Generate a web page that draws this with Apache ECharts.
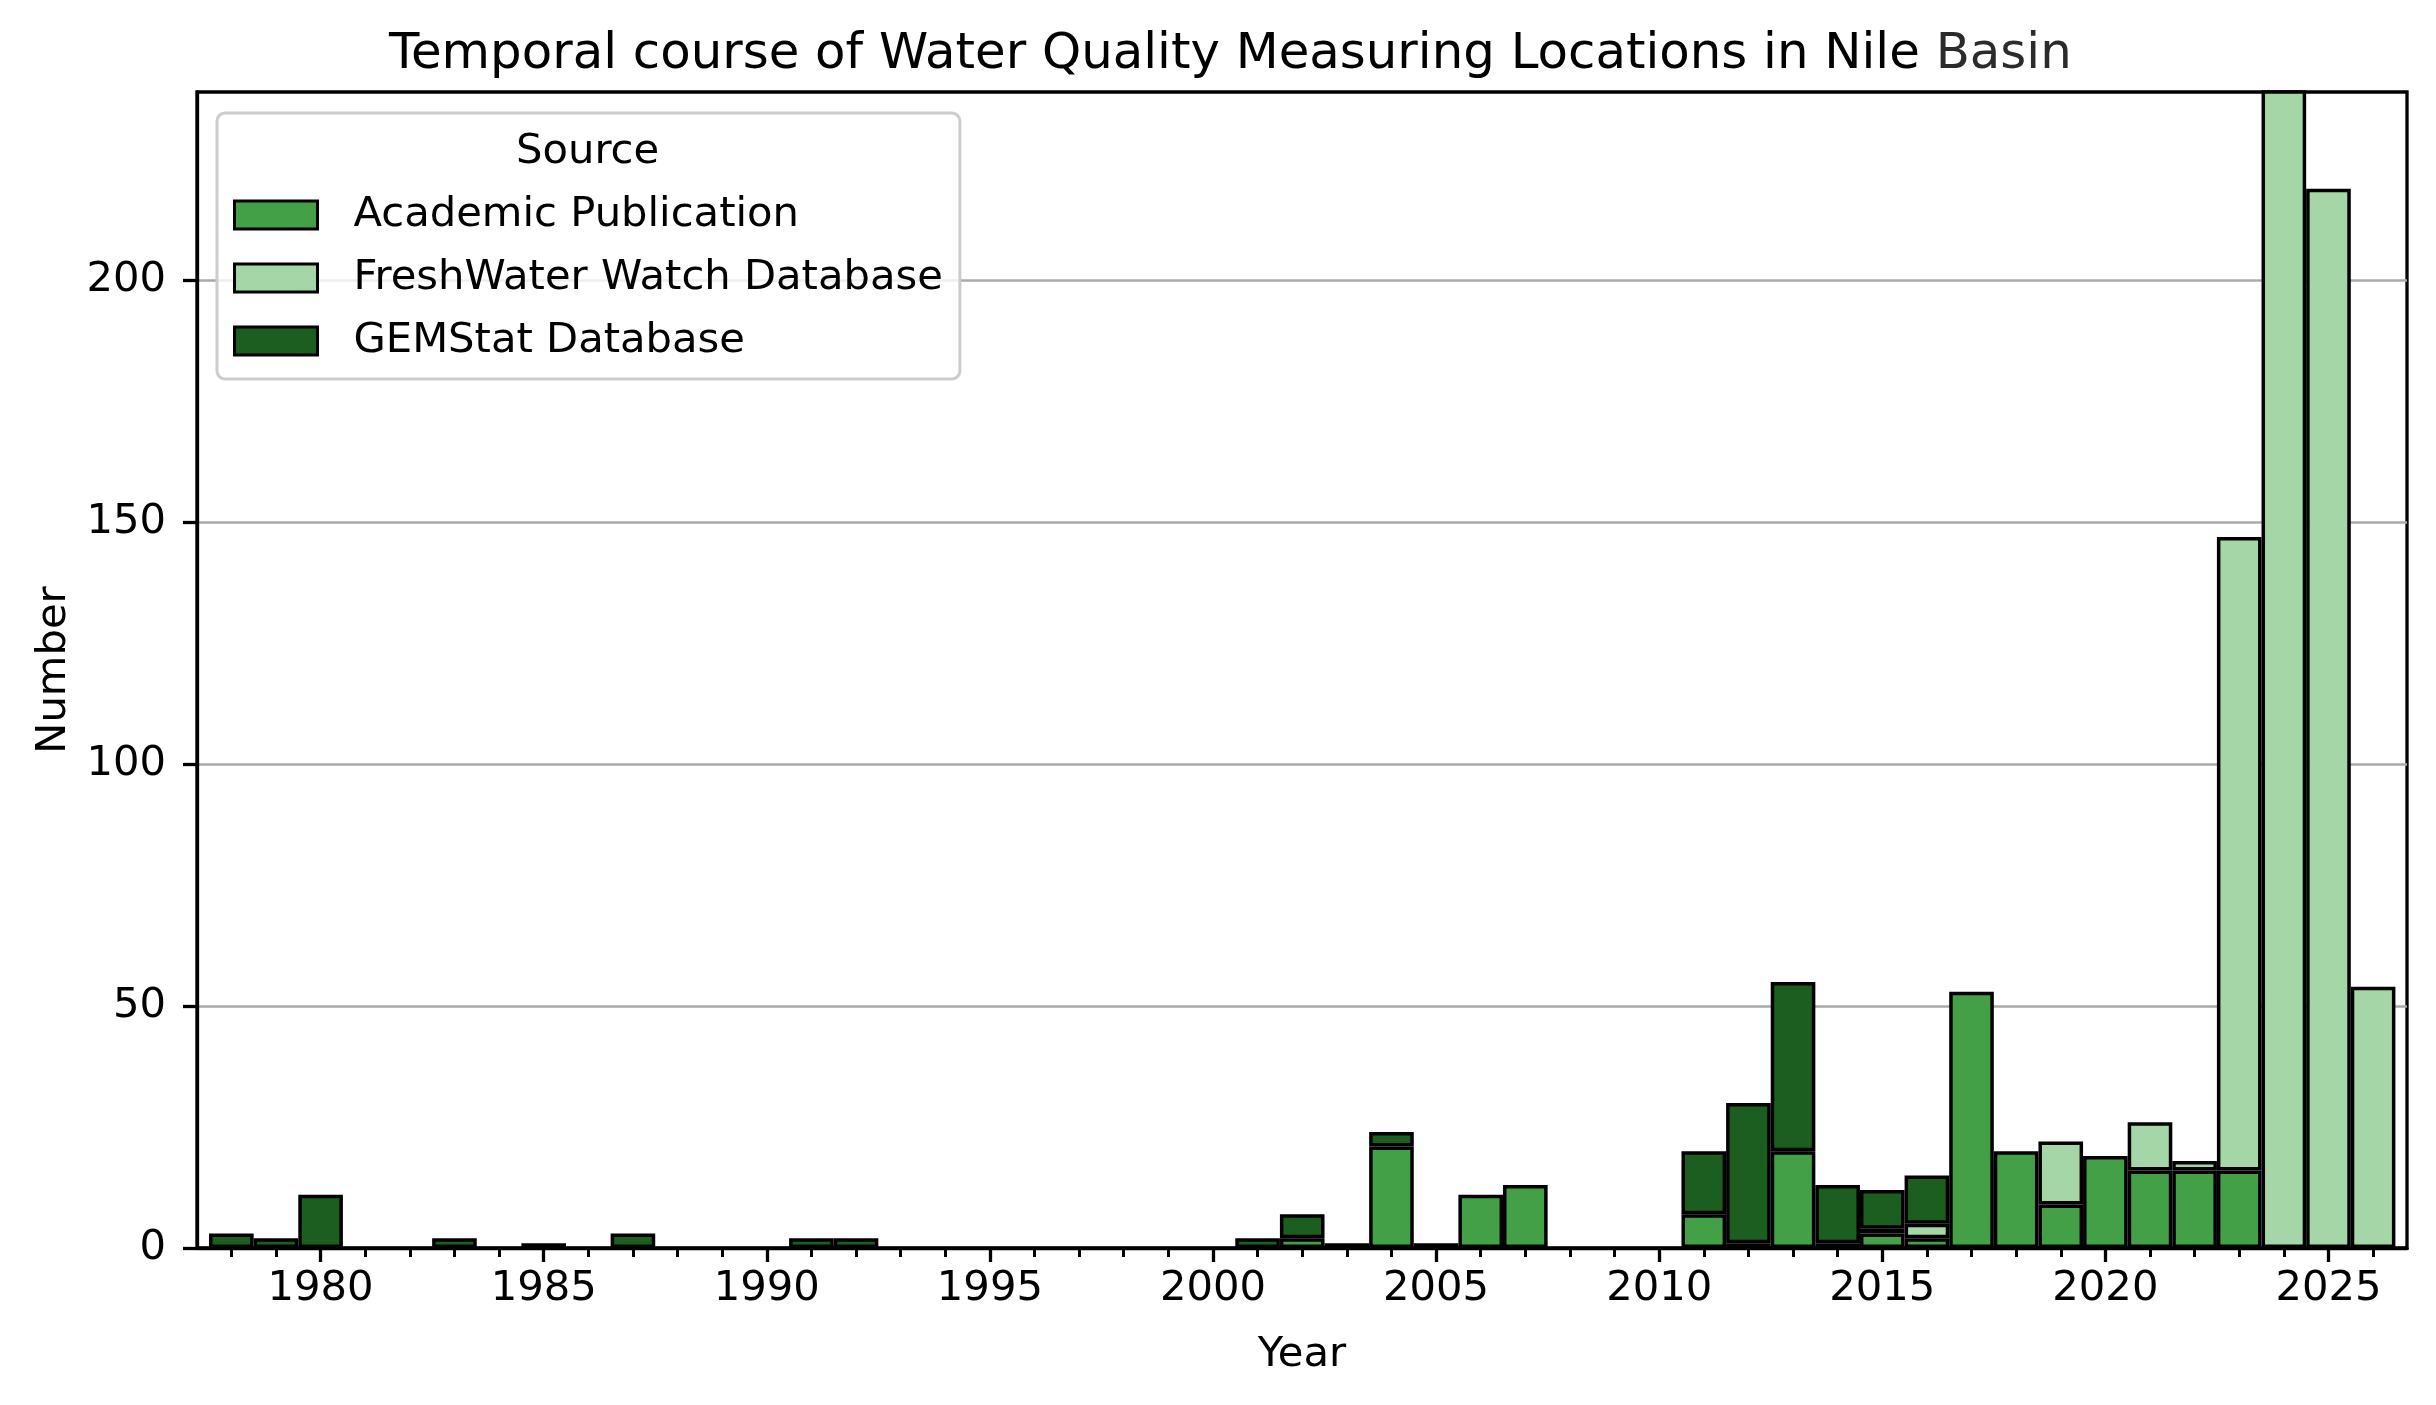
<!DOCTYPE html>
<html>
<head>
<meta charset="utf-8">
<script src="https://cdn.jsdelivr.net/npm/echarts@6/dist/echarts.min.js"></script>
<style>
  html, body { margin: 0; padding: 0; background: #fff; }
  #chart { width: 2436px; height: 1405px; }
</style>
</head>
<body>
<div id="chart"></div>
<script>
// one bin per year, 1978..2026
const years = [];
for (let y = 1978; y <= 2026; y++) years.push(y);

//                 1978 ...                                              ... 2026
const academic = [0,0,0,0,0,0,0,0,0,0, 0,0,0,0,0,0,0,0,0,0, 0,0,0,0,2,0,21,0,11,13, 0,0,0,7,1,20,0,3,2,53, 20,9,19,16,16,16,0,0,0];
const freshWater = [0,0,0,0,0,0,0,0,0,0, 0,0,0,0,0,0,0,0,0,0, 0,0,0,0,0,0,0,0,0,0, 0,0,0,0,0,0,1,1,3,0, 0,13,0,10,2,131,250,219,54];
const gemstat = [3,2,11,0,0,2,0,1,0,3, 0,0,0,2,2,0,0,0,0,0, 0,0,0,2,5,1,3,1,0,0, 0,0,0,13,29,35,12,8,10,0, 0,0,0,0,0,0,0,0,0];

const seriesNames = ['Academic Publication', 'FreshWater Watch Database', 'GEMStat Database'];
const seriesColors = ['#43a047', '#a5d6a7', '#1b5e20'];

const majorTicks = [1980, 1985, 1990, 1995, 2000, 2005, 2010, 2015, 2020, 2025];
const yTicks = [0, 50, 100, 150, 200];

const FONT = 'DejaVu Sans';
const FS = 41.7;
const xMin = 1977.23, xMax = 2026.76, yMax = 239;
const gridLeft = 197, gridRight = 29, gridTop = 92, gridBottom = 157;
const yearPx = (2436 - gridLeft - gridRight) / (xMax - xMin);
// the bar grid covers exactly the year bins (1977.5 .. 2026.5)
const barLeft = gridLeft + (years[0] - 0.5 - xMin) * yearPx;
const barRight = gridRight + (xMax - (years[years.length - 1] + 0.5)) * yearPx;

const chart = echarts.init(document.getElementById('chart'), null, { renderer: 'canvas' });

const seriesValues = [academic, freshWater, gemstat];
const series = seriesValues.map((vals, i) => ({
    name: seriesNames[i],
    type: 'bar',
    stack: 'total',
    xAxisIndex: 0,
    yAxisIndex: 0,
    barWidth: '100%',
    barCategoryGap: '0%',
    // empty bins are not drawn, so their edges do not double up on the stack tops
    data: vals.map(v => (v === 0 ? '-' : v)),
    itemStyle: { color: seriesColors[i], borderColor: '#000', borderWidth: 3.5 },
    emphasis: { disabled: true },
    clip: true
}));

const opt = {
    animation: false,
    backgroundColor: '#fff',
    title: [
        {
            text: 'Temporal course of Water Quality Measuring Locations in Nile {b|Basin}',
            left: 384,
            top: 25,
            textStyle: {
                fontFamily: FONT, fontSize: 49.8, fontWeight: 'normal', color: '#000',
                rich: { b: { fontFamily: FONT, fontSize: 49.8, color: '#2b2b2b' } }
            }
        },
        {
            text: 'Source',
            left: 516,
            top: 131,
            padding: 0,
            textStyle: { fontFamily: FONT, fontSize: FS, fontWeight: 'normal', color: '#000' }
        }
    ],
    legend: {
        data: seriesNames,
        orient: 'vertical',
        left: 217,
        top: 113,
        padding: [81, 17, 17, 16],
        itemWidth: 83,
        itemHeight: 28,
        itemGap: 21,
        icon: 'rect',
        borderColor: '#cccccc',
        borderWidth: 3,
        borderRadius: 8,
        backgroundColor: 'rgba(255,255,255,0.8)',
        itemStyle: { borderColor: '#000', borderWidth: 3 },
        textStyle: { fontFamily: FONT, fontSize: FS, color: '#000', lineHeight: 41, padding: [0, 0, 0, 31] }
    },
    grid: [
        { left: barLeft, right: barRight, top: gridTop, bottom: gridBottom },
        {
            left: gridLeft, right: gridRight, top: gridTop, bottom: gridBottom,
            show: true, borderColor: '#000', borderWidth: 3.3, backgroundColor: 'transparent'
        }
    ],
    xAxis: [
        {
            type: 'category',
            gridIndex: 0,
            data: years,
            boundaryGap: true,
            show: false
        },
        {
            type: 'value',
            gridIndex: 1,
            min: xMin, max: xMax,
            name: 'Year',
            nameLocation: 'middle',
            nameGap: 86,
            nameTextStyle: { fontFamily: FONT, fontSize: FS, color: '#000' },
            axisLine: { show: true, onZero: false, lineStyle: { color: '#000', width: 3.3 } },
            axisTick: { show: true, length: 14, lineStyle: { color: '#000', width: 3.3 }, customValues: majorTicks },
            axisLabel: {
                fontFamily: FONT, fontSize: FS, color: '#000', margin: 20,
                customValues: majorTicks, formatter: v => String(v)
            },
            splitLine: { show: false }
        },
        {
            type: 'value',
            gridIndex: 1,
            min: xMin, max: xMax,
            position: 'bottom',
            axisLine: { show: false },
            axisTick: { show: true, length: 9, lineStyle: { color: '#000', width: 3 }, customValues: years },
            axisLabel: { show: false },
            splitLine: { show: false }
        }
    ],
    yAxis: [
        {
            type: 'value',
            gridIndex: 0,
            min: 0, max: yMax,
            show: false,
            splitLine: { show: false }
        },
        {
            type: 'value',
            gridIndex: 1,
            min: 0, max: yMax, interval: 50,
            name: 'Number',
            nameLocation: 'middle',
            nameGap: 120,
            nameTextStyle: { fontFamily: FONT, fontSize: FS, color: '#000' },
            axisLine: { show: true, lineStyle: { color: '#000', width: 3.3 } },
            axisTick: { show: true, length: 14, lineStyle: { color: '#000', width: 3.3 }, customValues: yTicks },
            axisLabel: { fontFamily: FONT, fontSize: FS, color: '#000', margin: 31, customValues: yTicks },
            splitLine: { show: true, lineStyle: { color: '#aaaaaa', width: 2.5 } }
        }
    ],
    series: series
};

chart.setOption(opt);
</script>
</body>
</html>
